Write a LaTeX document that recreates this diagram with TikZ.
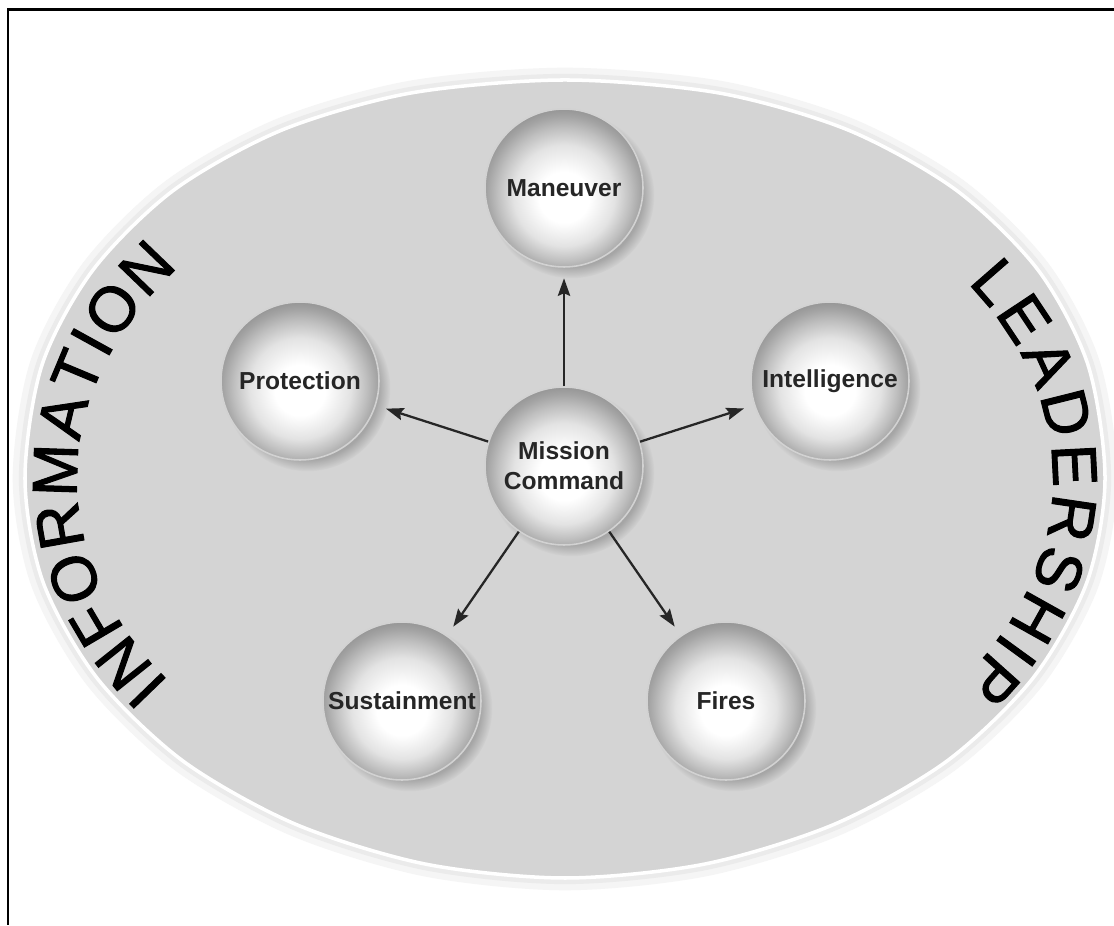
\documentclass[tikz,border=0pt]{standalone}
\usepackage{fontspec}
\setsansfont{Liberation Sans}
\newfontfamily\bigfont[FakeBold=1.6]{Liberation Sans}
\usetikzlibrary{arrows.meta,shadows,fadings,decorations.text}

\pgfdeclareradialshading{sphere}{\pgfpoint{0bp}{-3.5bp}}{color(0bp)=(white); color(8bp)=(white); color(16bp)=(gray!22); color(21bp)=(gray!50); color(24.5bp)=(gray!72); color(27bp)=(gray!84); color(50bp)=(gray!84)}
\definecolor{ovalgray}{gray}{0.83}
\newcommand\bigletters{\bigfont\fontsize{36}{36}\selectfont}

\begin{document}
\begin{tikzpicture}[x=0.02cm, y=0.02cm,
  ball/.style={circle, minimum size=3.16cm, inner sep=0pt, shading=sphere, draw=white!65!gray, line width=0.9pt,
    circular drop shadow={shadow xshift=4pt, shadow yshift=-4pt, shadow scale=1.05, opacity=0.55},
    font=\sffamily\bfseries\fontsize{14}{17}\selectfont, text=black!85, align=center},
  link/.style={-{Stealth[length=10pt, width=7pt, inset=1.5pt]}, line width=1.3pt, black!85, shorten >=6pt}]
\useasboundingbox (0,0) rectangle (1114,925);
\fill [white] (0,0) rectangle (1114,925);

\path [preaction={draw=black!4, line width=14pt}, preaction={draw=black!8, line width=7pt}, fill=ovalgray, postaction={draw=white, line width=2pt}] plot [smooth cycle] coordinates {(1105,446) (1088,560) (1038,655) (956,735) (848,795) (719,832) (565,845) (411,832) (282,795) (174,735) (93,655) (42,560) (25,446) (43,343) (97,247) (183,164) (295,101) (425,61) (565,47) (705,61) (835,101) (947,164) (1033,247) (1087,343)};

\path [decorate, decoration={text along path, text align={fit to path}, text={|\bigletters|INFORMATION}}] ([shift={(565,446)}]215.8:488 and 347) arc [start angle=215.8, end angle=142.4, x radius=488, y radius=347];
\path [decorate, decoration={text along path, text align={fit to path}, text={|\bigletters|LEADERSHIP}}] ([shift={(565,446)}]34.4:488 and 347) arc [start angle=34.4, end angle=-35.5, x radius=488, y radius=347];

\node [ball] (man) at (564,737) {Maneuver};
\node [ball] (prot) at (300,544) {Protection};
\node [ball] (intel) at (830,544) {Intelligence};
\node [ball] (mc) at (564,459) {Mission\\Command};
\node [ball] (sust) at (402,224) {Sustainment};
\node [ball] (fires) at (726,224) {Fires};

\draw [link] (mc) -- (man);
\draw [link] (mc) -- (prot);
\draw [link] (mc) -- (intel);
\draw [link] (mc) -- (sust);
\draw [link] (mc) -- (fires);

\draw [line width=1.7pt] (1114,915) -- (8,915) -- (8,0);

\end{tikzpicture}
\end{document}
